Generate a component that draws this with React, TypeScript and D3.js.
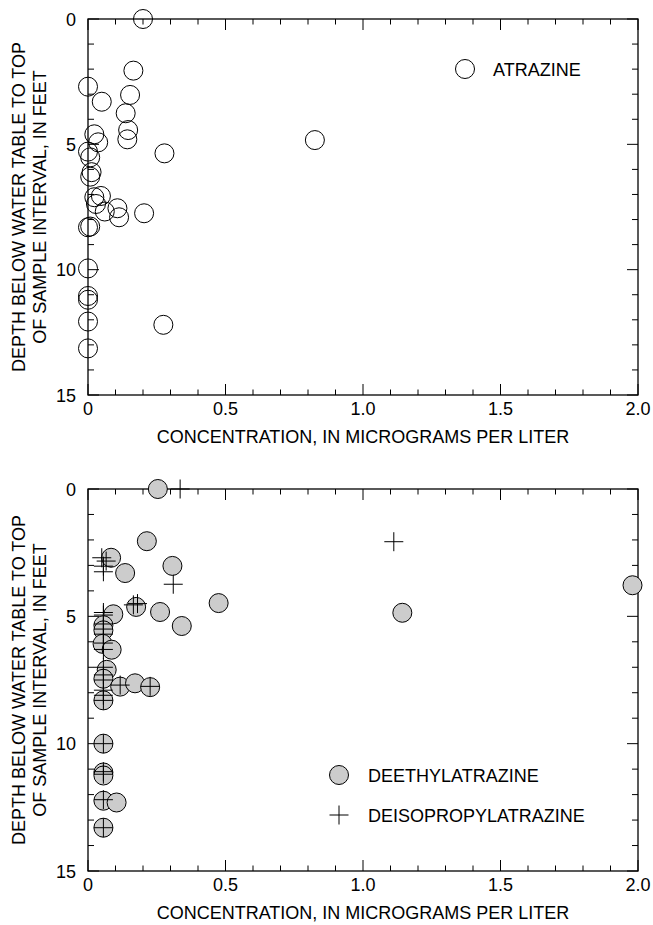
import React from "react";
import * as d3 from "d3";

// ---- Data ----
const atrazineConc = [0.2, 0.165, 0.0, 0.05, 0.153, 0.137, 0.146, 0.143, 0.023, 0.037, 0.825, 0.278, 0.0, 0.008, 0.013, 0.008, 0.047, 0.023, 0.029, 0.061, 0.107, 0.113, 0.204, 0.008, 0.0, 0.0, 0.0, 0.0, 0.0, 0.274, 0.0];
const atrazineDepth = [0.0, 2.06, 2.7, 3.3, 3.03, 3.76, 4.43, 4.8, 4.6, 4.92, 4.83, 5.36, 5.29, 5.52, 6.11, 6.29, 7.06, 7.11, 7.38, 7.68, 7.55, 7.91, 7.75, 8.28, 8.31, 9.95, 11.05, 11.2, 12.07, 12.2, 13.14];

const deethylConc = [0.254, 0.214, 0.084, 0.135, 0.307, 0.475, 0.175, 0.262, 0.341, 0.092, 0.056, 0.056, 0.053, 0.086, 0.068, 0.056, 0.117, 0.171, 0.226, 0.056, 0.056, 0.056, 0.056, 0.056, 0.104, 0.056, 1.98, 1.143];
const deethylDepth = [0.0, 2.05, 2.7, 3.3, 3.02, 4.48, 4.63, 4.83, 5.38, 4.92, 5.35, 5.55, 6.08, 6.31, 7.1, 7.45, 7.76, 7.63, 7.78, 8.3, 10.0, 11.13, 11.25, 12.24, 12.31, 13.3, 3.78, 4.86];

const deisoConc = [0.335, 1.112, 0.31, 0.05, 0.066, 0.056, 0.056, 0.165, 0.18, 0.056, 0.056, 0.056, 0.056, 0.056, 0.056, 0.056, 0.056, 0.056, 0.056, 0.056, 0.056, 0.056, 0.056, 0.056, 0.056, 0.056, 0.056, 0.117, 0.226];
const deisoDepth = [0.0, 2.07, 3.74, 2.7, 2.83, 3.03, 3.25, 4.55, 4.5, 4.85, 4.95, 5.3, 5.5, 5.7, 6.05, 6.3, 7.0, 7.3, 7.5, 7.9, 8.1, 8.3, 10.0, 11.1, 11.2, 12.2, 13.3, 7.7, 7.75];

const xTickLabels = ["0", "0.5", "1.0", "1.5", "2.0"];
const xTickValues = [0, 0.5, 1.0, 1.5, 2.0];
const yTickValues = [0, 5, 10, 15];
const yTickLabels = ["0", "5", "10", "15"];

const xTitle = "CONCENTRATION, IN MICROGRAMS PER LITER";
const yTitle1 = "DEPTH BELOW WATER TABLE TO TOP";
const yTitle2 = "OF SAMPLE INTERVAL, IN FEET";

const FONT = "'Liberation Sans', Arial, Helvetica, sans-serif";
const FS = 18;
const LEFT = 88;
const RIGHT = 638;
const R = 9.5;
const PLUS = 9.5;
const GREY = "#cccccc";

type PanelProps = {
  top: number;
  bottom: number;
  children: (x: d3.ScaleLinear<number, number>, y: d3.ScaleLinear<number, number>) => React.ReactNode;
};

function Panel({ top, bottom, children }: PanelProps) {
  const x = d3.scaleLinear().domain([0, 2]).range([LEFT, RIGHT]);
  const y = d3.scaleLinear().domain([0, 15]).range([top, bottom]);
  const xMinor = d3.range(0, 20.5, 1).map((i) => i / 10);
  const yMinor = d3.range(0, 16, 1);
  const isMajorX = (v: number) => Math.abs(v * 2 - Math.round(v * 2)) < 1e-6;
  const cy = (top + bottom) / 2;
  return (
    <g>
      {/* ticks */}
      {xMinor.map((v, i) => {
        const len = isMajorX(v) ? 11 : 5.5;
        return (
          <g key={"xt" + i} stroke="#000" strokeWidth={1}>
            <line x1={x(v)} x2={x(v)} y1={bottom} y2={bottom - len} />
            <line x1={x(v)} x2={x(v)} y1={top} y2={top + len} />
          </g>
        );
      })}
      {yMinor.map((v, i) => {
        const len = v % 5 === 0 ? 11 : 6;
        return (
          <g key={"yt" + i} stroke="#000" strokeWidth={1}>
            <line x1={LEFT} x2={LEFT + len} y1={y(v)} y2={y(v)} />
            <line x1={RIGHT} x2={RIGHT - len} y1={y(v)} y2={y(v)} />
          </g>
        );
      })}
      {/* frame */}
      <rect x={LEFT} y={top} width={RIGHT - LEFT} height={bottom - top} fill="none" stroke="#000" strokeWidth={1.3} />
      {/* tick labels */}
      {xTickValues.map((v, i) => (
        <text key={"xl" + i} x={x(v)} y={bottom + 20} textAnchor="middle" fontFamily={FONT} fontSize={FS}>
          {xTickLabels[i]}
        </text>
      ))}
      {yTickValues.map((v, i) => (
        <text key={"yl" + i} x={LEFT - 12} y={y(v) + 6.5} textAnchor="end" fontFamily={FONT} fontSize={FS}>
          {yTickLabels[i]}
        </text>
      ))}
      {/* titles */}
      <text x={(LEFT + RIGHT) / 2} y={bottom + 48} textAnchor="middle" fontFamily={FONT} fontSize={FS}>
        {xTitle}
      </text>
      <text transform={`translate(25,${cy}) rotate(-90)`} textAnchor="middle" fontFamily={FONT} fontSize={FS}>
        {yTitle1}
      </text>
      <text transform={`translate(46,${cy}) rotate(-90)`} textAnchor="middle" fontFamily={FONT} fontSize={FS}>
        {yTitle2}
      </text>
      {children(x, y)}
    </g>
  );
}

function Plus({ cx, cy }: { cx: number; cy: number }) {
  return (
    <g stroke="#000" strokeWidth={1}>
      <line x1={cx - PLUS} x2={cx + PLUS} y1={cy} y2={cy} />
      <line x1={cx} x2={cx} y1={cy - PLUS} y2={cy + PLUS} />
    </g>
  );
}

export default function App() {
  return (
    <svg width={653} height={925} style={{ position: "absolute", left: 0, top: 0, background: "#fff" }}>
      <rect x={0} y={0} width={653} height={925} fill="#fff" />
      <Panel top={19} bottom={395}>
        {(x, y) => (
          <g>
            {atrazineConc.map((c, i) => (
              <circle key={i} cx={x(c)} cy={y(atrazineDepth[i])} r={R} fill="none" stroke="#000" strokeWidth={1} />
            ))}
            <circle cx={465} cy={69} r={R} fill="none" stroke="#000" strokeWidth={1} />
            <text x={493} y={75.5} fontFamily={FONT} fontSize={FS}>ATRAZINE</text>
          </g>
        )}
      </Panel>
      <Panel top={489} bottom={871}>
        {(x, y) => (
          <g>
            {deethylConc.map((c, i) => (
              <circle key={i} cx={x(c)} cy={y(deethylDepth[i])} r={R} fill={GREY} stroke="#000" strokeWidth={1} />
            ))}
            {deisoConc.map((c, i) => (
              <Plus key={i} cx={x(c)} cy={y(deisoDepth[i])} />
            ))}
            <circle cx={339} cy={775} r={R} fill={GREY} stroke="#000" strokeWidth={1} />
            <text x={368} y={781.5} fontFamily={FONT} fontSize={FS}>DEETHYLATRAZINE</text>
            <Plus cx={339} cy={815} />
            <text x={368} y={821.5} fontFamily={FONT} fontSize={FS}>DEISOPROPYLATRAZINE</text>
          </g>
        )}
      </Panel>
    </svg>
  );
}
